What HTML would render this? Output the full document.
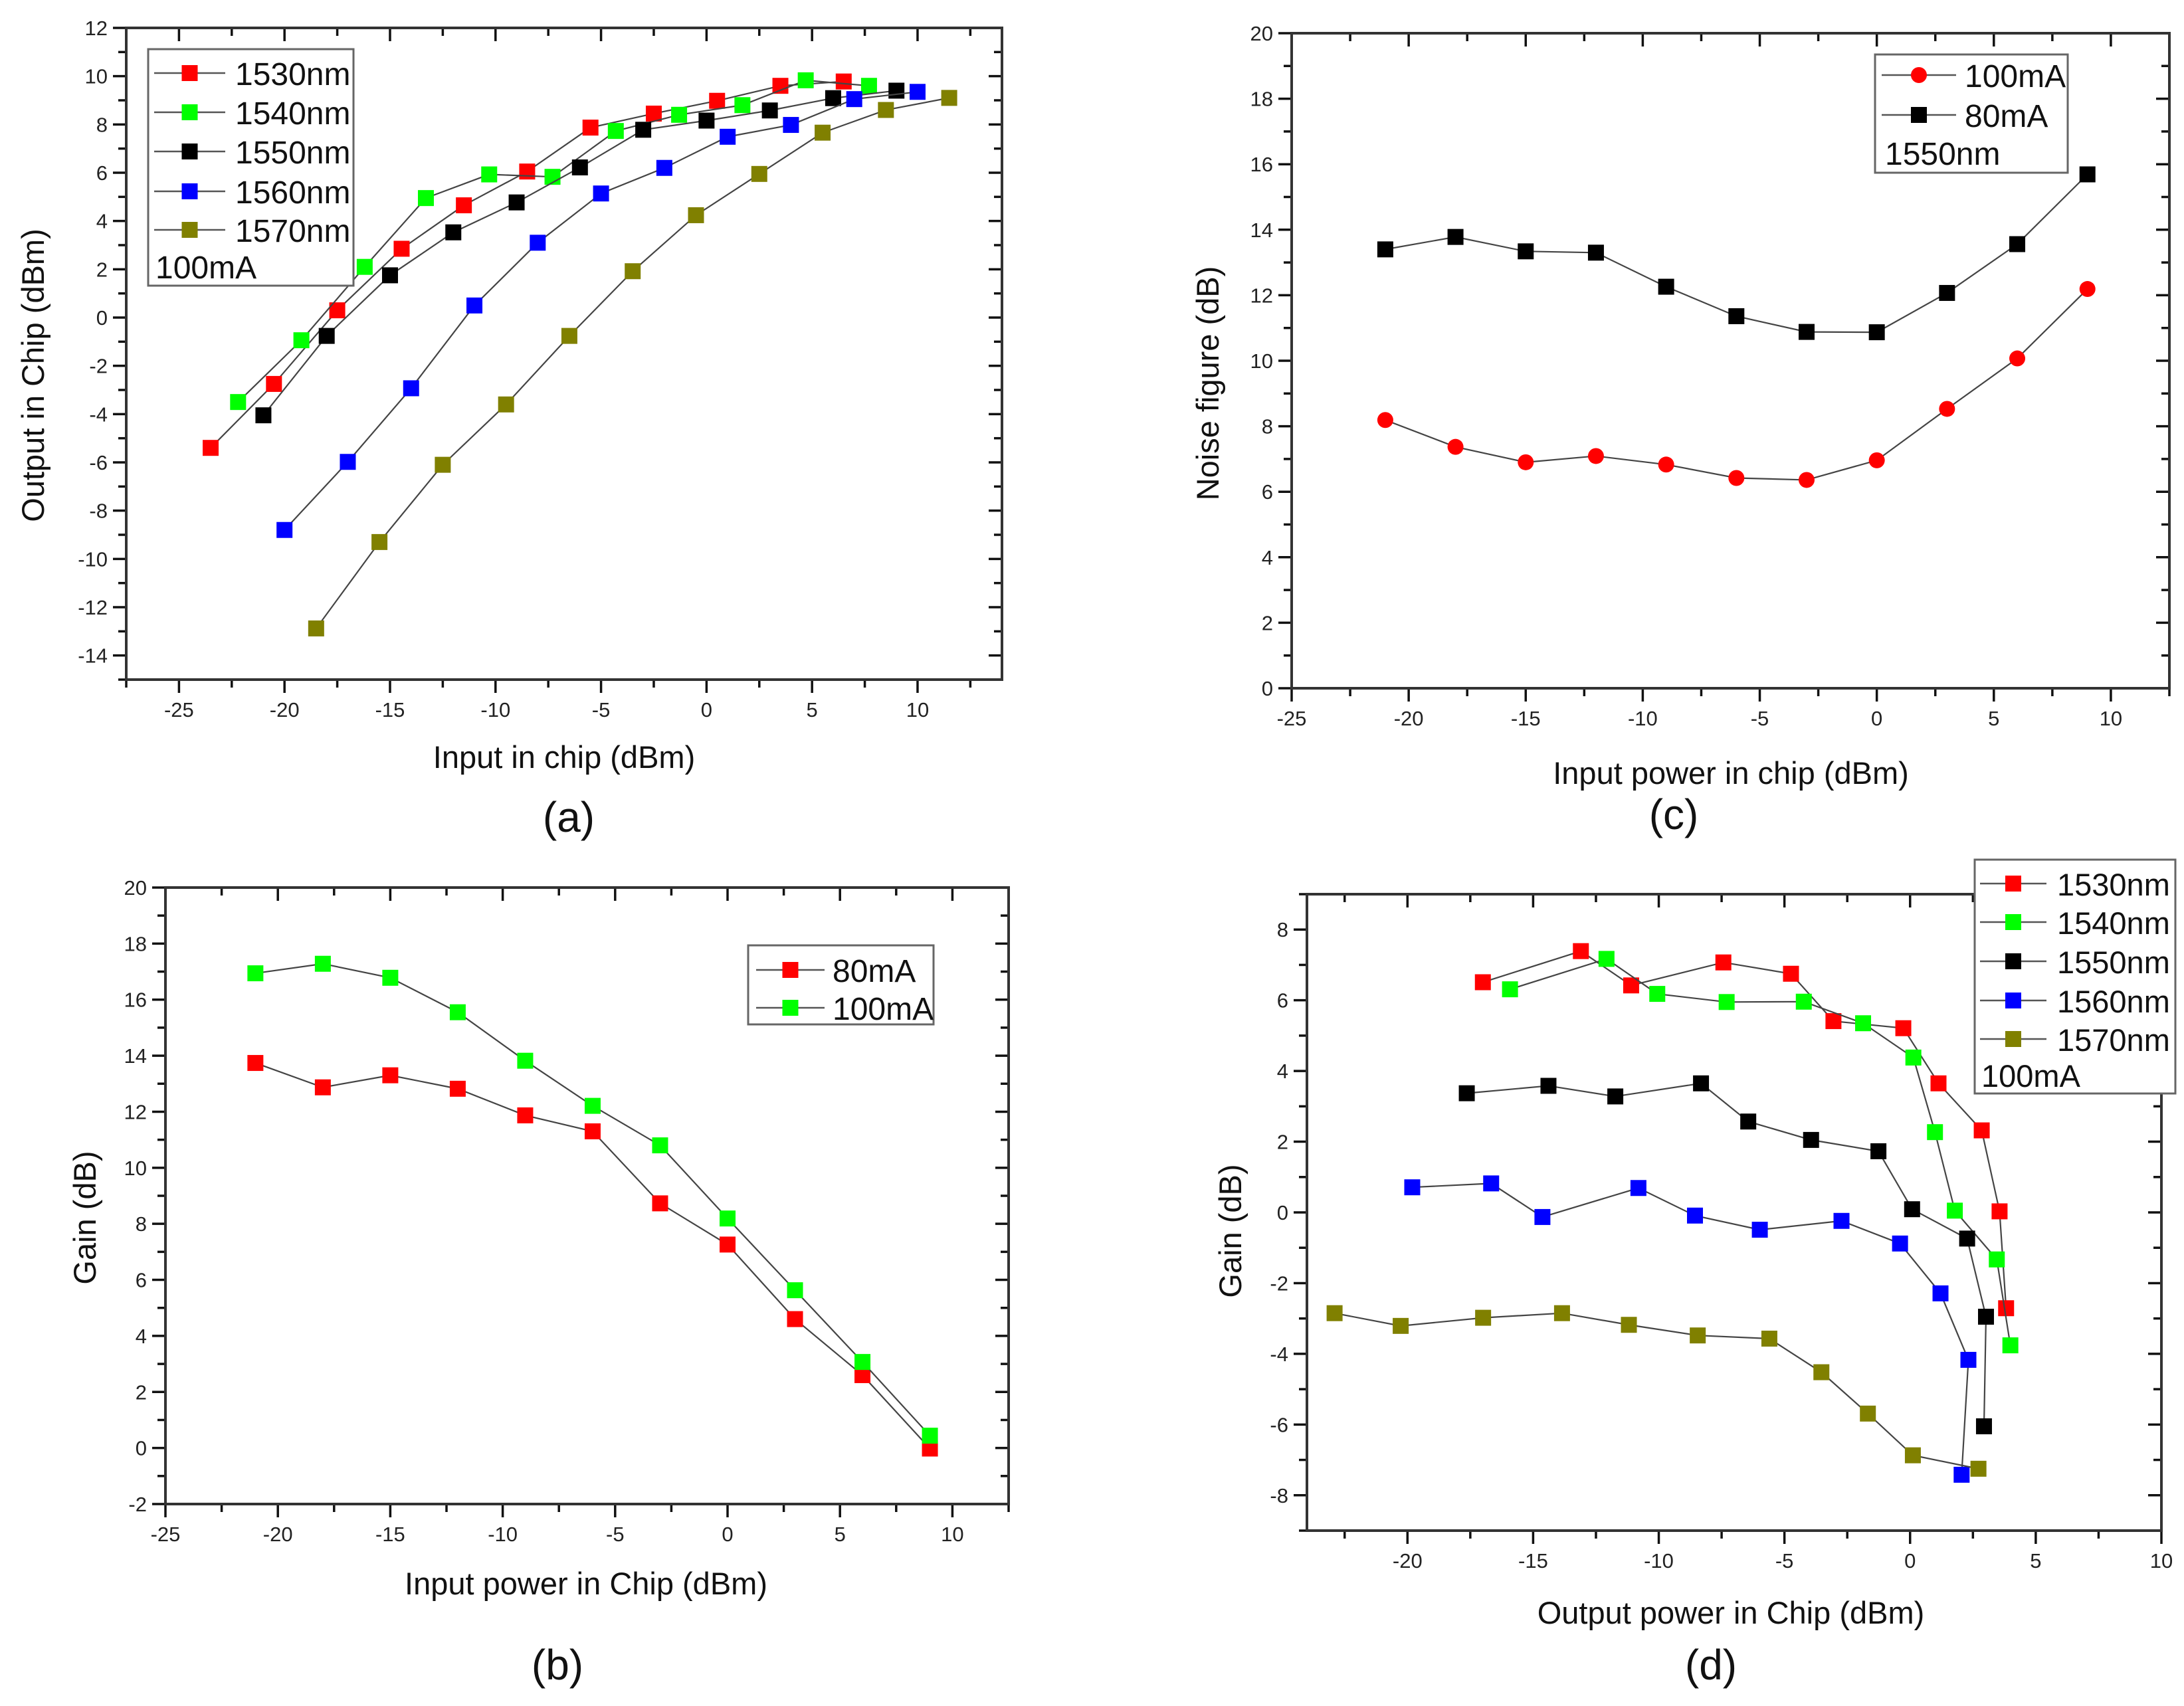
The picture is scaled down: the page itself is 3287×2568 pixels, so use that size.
<!DOCTYPE html>
<html><head><meta charset="utf-8"><style>
html,body{margin:0;padding:0;background:#fff;}
svg{display:block;font-family:"Liberation Sans",Arial,sans-serif;}
</style></head><body>
<svg id="fig" width="3287" height="2568" viewBox="0 0 3287 2568" xmlns="http://www.w3.org/2000/svg"></svg>
<script>
// ---- Panel (a) data ----
const aSeriesNames = ["1530nm","1540nm","1550nm","1560nm","1570nm"];
const aX1530 = [-23.5,-20.5,-17.5,-14.45,-11.5,-8.5,-5.5,-2.5,0.5,3.5,6.5];
const aY1530 = [-5.4,-2.75,0.3,2.85,4.65,6.05,7.87,8.45,8.98,9.6,9.78];
const aX1540 = [-22.2,-19.2,-16.2,-13.3,-10.3,-7.3,-4.3,-1.3,1.7,4.7,7.7];
const aY1540 = [-3.5,-0.94,2.1,4.95,5.93,5.83,7.73,8.4,8.8,9.83,9.6];
const aX1550 = [-21,-18,-15,-12,-9,-6,-3,0,3,6,9];
const aY1550 = [-4.05,-0.76,1.75,3.53,4.77,6.22,7.78,8.16,8.58,9.09,9.4];
const aX1560 = [-20,-17,-14,-11,-8,-5,-2,1,4,7,10];
const aY1560 = [-8.8,-5.98,-2.93,0.5,3.1,5.14,6.2,7.49,7.98,9.05,9.35];
const aX1570 = [-18.5,-15.5,-12.5,-9.5,-6.5,-3.5,-0.5,2.5,5.5,8.5,11.5];
const aY1570 = [-12.88,-9.3,-6.1,-3.6,-0.76,1.92,4.24,5.95,7.66,8.6,9.1];
const aXTicks = [-25,-20,-15,-10,-5,0,5,10];
const aYTicks = [-14,-12,-10,-8,-6,-4,-2,0,2,4,6,8,10,12];
// ---- Panel (b) data ----
const bSeriesNames = ["80mA","100mA"];
const bX = [-21,-18,-15,-12,-9,-6,-3,0,3,6,9];
const bY80 = [13.74,12.87,13.3,12.82,11.87,11.3,8.73,7.26,4.6,2.6,-0.02];
const bY100 = [16.94,17.28,16.78,15.55,13.82,12.21,10.8,8.19,5.63,3.07,0.44];
const bXTicks = [-25,-20,-15,-10,-5,0,5,10];
const bYTicks = [-2,0,2,4,6,8,10,12,14,16,18,20];
// ---- Panel (c) data ----
const cSeriesNames = ["100mA","80mA"];
const cX = [-21,-18,-15,-12,-9,-6,-3,0,3,6,9];
const cY100 = [8.19,7.37,6.9,7.09,6.83,6.42,6.36,6.96,8.53,10.07,12.19];
const cY80 = [13.4,13.78,13.34,13.3,12.26,11.36,10.88,10.87,12.07,13.56,15.69];
const cXTicks = [-25,-20,-15,-10,-5,0,5,10];
const cYTicks = [0,2,4,6,8,10,12,14,16,18,20];
// ---- Panel (d) data ----
const dSeriesNames = ["1530nm","1540nm","1550nm","1560nm","1570nm"];
const dX1530 = [-17,-13.1,-11.1,-7.43,-4.74,-3.05,-0.27,1.13,2.85,3.56,3.82];
const dY1530 = [6.51,7.39,6.42,7.07,6.75,5.41,5.21,3.65,2.32,0.03,-2.71];
const dX1540 = [-15.92,-12.08,-10.06,-7.3,-4.23,-1.87,0.13,0.99,1.78,3.45,3.99];
const dY1540 = [6.31,7.17,6.18,5.95,5.96,5.35,4.38,2.27,0.05,-1.33,-3.76];
const dX1550 = [-17.64,-14.39,-11.73,-8.32,-6.44,-3.94,-1.26,0.08,2.27,3.02,2.94];
const dY1550 = [3.37,3.58,3.28,3.65,2.57,2.05,1.73,0.09,-0.74,-2.95,-6.05];
const dX1560 = [-19.81,-16.67,-14.63,-10.81,-8.56,-5.98,-2.73,-0.4,1.21,2.32,2.05];
const dY1560 = [0.71,0.82,-0.13,0.69,-0.09,-0.49,-0.24,-0.88,-2.29,-4.17,-7.42];
const dX1570 = [-22.9,-20.27,-16.99,-13.85,-11.19,-8.45,-5.6,-3.53,-1.68,0.11,2.72];
const dY1570 = [-2.85,-3.21,-2.98,-2.85,-3.18,-3.48,-3.57,-4.52,-5.69,-6.87,-7.25];
const dXTicks = [-20,-15,-10,-5,0,5,10];
const dYTicks = [-8,-6,-4,-2,0,2,4,6,8];

const NS = "http://www.w3.org/2000/svg";
const svg = document.getElementById('fig');
function mk(tag, attrs, parent, name, inter){
  const e = document.createElementNS(NS, tag);
  for (const k in attrs) e.setAttribute(k, attrs[k]);
  
  
  (parent || svg).appendChild(e);
  return e;
}
const COLORS = {red:"#ff0000", green:"#00ff00", black:"#000000", blue:"#0000ff", olive:"#808000"};
const MS = 24;

function panel(p){
  const g = mk('g', {}, svg, p.id + '-panel', false);
  const sx = v => p.L + (v - p.x0) / (p.x1 - p.x0) * (p.R - p.L);
  const sy = v => p.B - (v - p.y0) / (p.y1 - p.y0) * (p.B - p.T);
  const tg = mk('g', {stroke:"#111","stroke-width":3.5}, g, p.id + '-ticks', false);
  for (let v = p.xMinorStart; v <= p.x1 + 1e-6; v += p.xMinor){
    if (v < p.x0 - 1e-6) continue;
    const major = p.xTicks.some(t => Math.abs(t - v) < 1e-6);
    const len = major ? 20 : 12, x = sx(v);
    mk('line', {x1:x, y1:p.B, x2:x, y2:p.B + len}, tg, 'x-tick', false);
    mk('line', {x1:x, y1:p.T, x2:x, y2:p.T + len}, tg, 'x-tick-top', false);
  }
  for (let v = p.y0; v <= p.y1 + 1e-6; v += p.yMinor){
    const major = p.yTicks.some(t => Math.abs(t - v) < 1e-6);
    const len = major ? 20 : 12, y = sy(v);
    mk('line', {x1:p.L, y1:y, x2:p.L - len, y2:y}, tg, 'y-tick', false);
    mk('line', {x1:p.R, y1:y, x2:p.R - len, y2:y}, tg, 'y-tick-right', false);
  }
  mk('rect', {x:p.L, y:p.T, width:p.R - p.L, height:p.B - p.T, fill:"none", stroke:"#333", "stroke-width":4}, g, p.id + '-plot-frame', false);
  p.xTicks.forEach(t => {
    const e = mk('text', {x:sx(t), y:p.B + 56, "font-size":31, "text-anchor":"middle", fill:"#222"}, g, 'x-tick-label', false);
    e.textContent = String(t);
  });
  p.yTicks.forEach(t => {
    const e = mk('text', {x:p.L - 28, y:sy(t) + 11, "font-size":31, "text-anchor":"end", fill:"#222"}, g, 'y-tick-label', false);
    e.textContent = String(t);
  });
  let e = mk('text', {x:p.xtX, y:p.xtY, "font-size":47, "text-anchor":"middle", fill:"#111"}, g, 'x-axis-title', false);
  e.textContent = p.xTitle;
  e = mk('text', {x:p.ytX, y:p.ytY, "font-size":47, "text-anchor":"middle", fill:"#111", transform:`rotate(-90 ${p.ytX} ${p.ytY})`}, g, 'y-axis-title', false);
  e.textContent = p.yTitle;
  e = mk('text', {x:p.lblX, y:p.lblY, "font-size":64, "text-anchor":"middle", fill:"#111"}, g, 'panel-label', false);
  e.textContent = p.label;
  p.series.forEach(s => {
    const sg = mk('g', {}, g, 'series-' + s.name, false);
    const pts = s.xs.map((x, i) => sx(x) + ',' + sy(s.ys[i])).join(' ');
    mk('polyline', {points:pts, fill:"none", stroke:"#444", "stroke-width":2.2}, sg, 'line-' + s.name, false);
    s.xs.forEach((x, i) => {
      const cx = sx(x), cy = sy(s.ys[i]);
      if (s.shape === 'circle') mk('circle', {cx:cx, cy:cy, r:12, fill:COLORS[s.color]}, sg, 'point-' + s.name, false);
      else mk('rect', {x:cx - MS/2, y:cy - MS/2, width:MS, height:MS, fill:COLORS[s.color]}, sg, 'point-' + s.name, false);
    });
  });
  const lg = mk('g', {}, g, 'legend', false);
  mk('rect', {x:p.lg.x, y:p.lg.y, width:p.lg.w, height:p.lg.h, fill:"#fff", stroke:"#666", "stroke-width":3}, lg, 'legend-box', false);
  p.series.forEach((s, i) => {
    const y = p.lg.rows[i];
    const en = mk('g', {}, lg, 'legend-entry', false);
    mk('line', {x1:p.lg.lx1, y1:y, x2:p.lg.lx2, y2:y, stroke:"#555", "stroke-width":2.5}, en, 'legend-line', false);
    const mx = (p.lg.lx1 + p.lg.lx2) / 2;
    if (s.shape === 'circle') mk('circle', {cx:mx, cy:y, r:12, fill:COLORS[s.color]}, en, 'legend-marker', false);
    else mk('rect', {x:mx - MS/2, y:y - MS/2, width:MS, height:MS, fill:COLORS[s.color]}, en, 'legend-marker', false);
    const t = mk('text', {x:p.lg.tx, y:y + 18, "font-size":p.lg.fs, fill:"#111"}, en, 'legend-label', false);
    t.textContent = s.name;
  });
  if (p.lg.note){
    const t = mk('text', {x:p.lg.noteX, y:p.lg.noteY, "font-size":p.lg.fs, fill:"#111"}, lg, 'legend-note', false);
    t.textContent = p.lg.note;
  }
}

panel({id:'a', L:190, R:1508, T:42, B:1023, x0:-27.5, x1:14, y0:-15, y1:12, xMinor:2.5, xMinorStart:-27.5, yMinor:1,
  xTicks:aXTicks, yTicks:aYTicks, xTitle:"Input in chip (dBm)", yTitle:"Output in Chip (dBm)",
  xtX:849, xtY:1156, ytX:66, ytY:565, label:"(a)", lblX:856, lblY:1252,
  series:[
    {name:aSeriesNames[0], xs:aX1530, ys:aY1530, color:'red'},
    {name:aSeriesNames[1], xs:aX1540, ys:aY1540, color:'green'},
    {name:aSeriesNames[2], xs:aX1550, ys:aY1550, color:'black'},
    {name:aSeriesNames[3], xs:aX1560, ys:aY1560, color:'blue'},
    {name:aSeriesNames[4], xs:aX1570, ys:aY1570, color:'olive'}],
  lg:{x:223, y:74, w:309, h:356, rows:[110,169,228,288,346], lx1:232, lx2:339, tx:354, fs:48, note:"100mA", noteX:234, noteY:419}});

panel({id:'b', L:249, R:1518, T:1336, B:2264, x0:-25, x1:12.5, y0:-2, y1:20, xMinor:2.5, xMinorStart:-25, yMinor:1,
  xTicks:bXTicks, yTicks:bYTicks, xTitle:"Input power in Chip (dBm)", yTitle:"Gain (dB)",
  xtX:882, xtY:2400, ytX:144, ytY:1833, label:"(b)", lblX:839, lblY:2528,
  series:[
    {name:bSeriesNames[0], xs:bX, ys:bY80, color:'red'},
    {name:bSeriesNames[1], xs:bX, ys:bY100, color:'green'}],
  lg:{x:1126, y:1423, w:279, h:119, rows:[1460,1517], lx1:1138, lx2:1241, tx:1253, fs:48}});

panel({id:'c', L:1944, R:3265, T:50, B:1036, x0:-25, x1:12.5, y0:0, y1:20, xMinor:2.5, xMinorStart:-25, yMinor:1,
  xTicks:cXTicks, yTicks:cYTicks, xTitle:"Input power in chip (dBm)", yTitle:"Noise figure (dB)",
  xtX:2605, xtY:1180, ytX:1834, ytY:577, label:"(c)", lblX:2519, lblY:1248,
  series:[
    {name:cSeriesNames[0], xs:cX, ys:cY100, color:'red', shape:'circle'},
    {name:cSeriesNames[1], xs:cX, ys:cY80, color:'black'}],
  lg:{x:2822, y:82, w:290, h:178, rows:[113,173], lx1:2832, lx2:2944, tx:2957, fs:48, note:"1550nm", noteX:2837, noteY:248}});

panel({id:'d', L:1967, R:3253, T:1346, B:2304, x0:-24, x1:10, y0:-9, y1:9, xMinor:2.5, xMinorStart:-22.5, yMinor:1,
  xTicks:dXTicks, yTicks:dYTicks, xTitle:"Output power in Chip (dBm)", yTitle:"Gain (dB)",
  xtX:2605, xtY:2444, ytX:1868, ytY:1853, label:"(d)", lblX:2575, lblY:2528,
  series:[
    {name:dSeriesNames[0], xs:dX1530, ys:dY1530, color:'red'},
    {name:dSeriesNames[1], xs:dX1540, ys:dY1540, color:'green'},
    {name:dSeriesNames[2], xs:dX1550, ys:dY1550, color:'black'},
    {name:dSeriesNames[3], xs:dX1560, ys:dY1560, color:'blue'},
    {name:dSeriesNames[4], xs:dX1570, ys:dY1570, color:'olive'}],
  lg:{x:2972, y:1294, w:302, h:352, rows:[1330,1388,1447,1506,1564], lx1:2980, lx2:3080, tx:3096, fs:47, note:"100mA", noteX:2982, noteY:1636}});
</script>
</body></html>
